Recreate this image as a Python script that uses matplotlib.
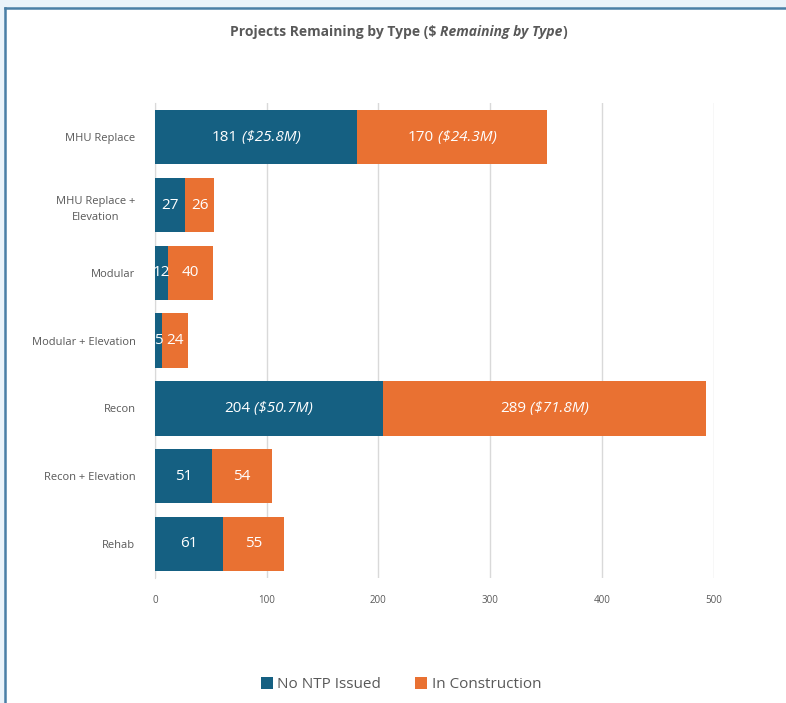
import matplotlib.pyplot as plt
from matplotlib.patches import Rectangle
from matplotlib.lines import Line2D

plt.rcParams['font.family'] = ['Open Sans', 'DejaVu Sans']

# data
types = ['MHU Replace', 'MHU Replace +\nElevation', 'Modular', 'Modular + Elevation',
         'Recon', 'Recon + Elevation', 'Rehab']
no_ntp = [181, 27, 12, 6, 204, 51, 61]
in_constr = [170, 26, 40, 24, 289, 54, 55]
no_ntp_labels = ['181', '27', '12', '5', '204', '51', '61']
no_ntp_money = ['($25.8M)', '', '', '', '($50.7M)', '', '']
in_constr_money = ['($24.3M)', '', '', '', '($71.8M)', '', '']
xticks = [0, 100, 200, 300, 400, 500]

blue = '#156082'
orange = '#E97132'
grey = '#595959'

fig = plt.figure(figsize=(7.86, 7.03), dpi=100, facecolor='#EAF3FA')
ax = fig.add_axes([0.197, 0.178, 0.711, 0.675])

# chart area frame: white panel with a blue edge on top and left
bx, by = 0.0064, 0.9886
fig.patches.append(Rectangle((bx, 0), 1 - bx, by, transform=fig.transFigure,
                             facecolor='white', edgecolor='none', zorder=-2))
fig.lines.append(Line2D([bx, 1], [by, by], transform=fig.transFigure, color='#4A7FA6',
                        lw=1.8, zorder=-1))
fig.lines.append(Line2D([bx, bx], [0, by], transform=fig.transFigure, color='#4A7FA6',
                        lw=1.8, zorder=-1))

y = list(range(len(types)))
ax.barh(y, no_ntp, height=0.8, color=blue, label='No NTP Issued', zorder=3)
ax.barh(y, in_constr, left=no_ntp, height=0.8, color=orange, label='In Construction', zorder=3)

ax.set_ylim(len(types) - 0.5, -0.5)
ax.set_xlim(0, 500)
ax.set_xticks(xticks)
ax.set_yticks(y)
ax.set_yticklabels(types, multialignment='center', linespacing=1.7)
ax.tick_params(axis='x', colors=grey, labelsize=7, length=0, pad=12)
ax.tick_params(axis='y', colors=grey, labelsize=8, length=0, pad=14)
ax.grid(axis='x', color='#D9D9D9', lw=1, zorder=0)
for s in ['top', 'right', 'bottom']:
    ax.spines[s].set_visible(False)
ax.spines['left'].set_color('#D9D9D9')

fig.canvas.draw()
renderer = fig.canvas.get_renderer()


def put_label(xc, yc, num, money):
    t1 = ax.text(xc, yc, num, color='white', fontsize=11, ha='center', va='center', zorder=5)
    if not money:
        return
    t2 = ax.text(xc, yc, ' ' + money, color='white', fontsize=11, style='italic',
                 ha='left', va='center', zorder=5)
    w1 = t1.get_window_extent(renderer).width
    w2 = t2.get_window_extent(renderer).width
    inv = ax.transData.inverted()
    x0 = ax.transData.transform((xc, yc))[0] - (w1 + w2) / 2
    t1.set_ha('left')
    t1.set_x(inv.transform((x0, 0))[0])
    t2.set_x(inv.transform((x0 + w1, 0))[0])


for i in y:
    put_label(no_ntp[i] / 2, i, no_ntp_labels[i], no_ntp_money[i])
    put_label(no_ntp[i] + in_constr[i] / 2, i, str(in_constr[i]), in_constr_money[i])

# title with italic part
t_a = fig.text(0.5, 0.955, 'Projects Remaining by Type (\\$ ', fontsize=10,
               fontweight='bold', color=grey, va='center')
t_b = fig.text(0.5, 0.955, 'Remaining by Type', fontsize=10, fontweight='bold',
               style='italic', color=grey, va='center')
t_c = fig.text(0.5, 0.955, ')', fontsize=10, fontweight='bold', color=grey, va='center')
fig.canvas.draw()
wa = t_a.get_window_extent(renderer).width
wb = t_b.get_window_extent(renderer).width
wc = t_c.get_window_extent(renderer).width
W = fig.bbox.width
start = 0.507 * W - (wa + wb + wc) / 2
t_a.set_x(start / W)
t_b.set_x((start + wa) / W)
t_c.set_x((start + wa + wb) / W)

leg = fig.legend(loc='center', bbox_to_anchor=(0.51, 0.026), ncol=2, frameon=False,
                 fontsize=11, handlelength=0.8, handleheight=0.8, handletextpad=0.3,
                 columnspacing=2.2)
for txt in leg.get_texts():
    txt.set_color(grey)

fig.savefig('out.png', dpi=100, facecolor=fig.get_facecolor())
